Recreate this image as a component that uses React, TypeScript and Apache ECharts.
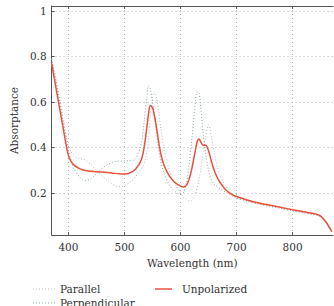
import React, { useEffect, useRef } from "react";
import * as echarts from "echarts";

// Wavelength samples (nm)
const wavelengths = [
  370, 380, 390, 397, 400, 405, 410, 420, 425, 430, 440, 450, 460, 470, 480, 490, 500,
  510, 520, 530, 535, 540, 543, 546, 550, 553, 556, 560, 565, 570, 580, 590, 600, 605,
  610, 615, 620, 625, 630, 633, 636, 640, 645, 650, 655, 660, 665, 670, 680, 690, 700,
  720, 740, 760, 780, 800, 820, 840, 850, 860, 870,
];

const parallel = [
  0.79, 0.665, 0.53, 0.44, 0.41, 0.38, 0.365, 0.35, 0.35, 0.345, 0.325, 0.3, 0.275, 0.252, 0.236, 0.228, 0.232,
  0.248, 0.272, 0.305, 0.33, 0.38, 0.44, 0.53, 0.615, 0.645, 0.63, 0.575, 0.48, 0.4, 0.3, 0.24, 0.2, 0.182,
  0.17, 0.165, 0.168, 0.185, 0.225, 0.26, 0.3, 0.37, 0.45, 0.5, 0.45, 0.375, 0.32, 0.282, 0.232, 0.202, 0.182,
  0.164, 0.152, 0.142, 0.132, 0.122, 0.113, 0.104, 0.096, 0.068, 0.028,
];

const perpendicular = [
  0.79, 0.665, 0.525, 0.43, 0.39, 0.34, 0.305, 0.27, 0.258, 0.254, 0.262, 0.285, 0.308, 0.325, 0.336, 0.34, 0.341,
  0.342, 0.35, 0.42, 0.51, 0.62, 0.672, 0.66, 0.6, 0.55, 0.49, 0.41, 0.34, 0.29, 0.235, 0.207, 0.195, 0.2,
  0.235, 0.32, 0.43, 0.56, 0.645, 0.64, 0.58, 0.47, 0.37, 0.3, 0.258, 0.238, 0.228, 0.22, 0.205, 0.19, 0.178,
  0.163, 0.151, 0.141, 0.131, 0.121, 0.112, 0.103, 0.095, 0.067, 0.028,
];

const unpolarized = [
  0.77, 0.632, 0.494, 0.397, 0.365, 0.338, 0.322, 0.307, 0.302, 0.299, 0.295, 0.293, 0.292, 0.29, 0.287, 0.284, 0.283,
  0.288, 0.305, 0.345, 0.4, 0.49, 0.55, 0.585, 0.575, 0.545, 0.505, 0.44, 0.37, 0.325, 0.275, 0.246, 0.23, 0.226,
  0.232, 0.258, 0.305, 0.368, 0.428, 0.437, 0.425, 0.41, 0.41, 0.385, 0.34, 0.3, 0.27, 0.248, 0.215, 0.196, 0.184,
  0.168, 0.156, 0.146, 0.136, 0.126, 0.117, 0.108, 0.098, 0.07, 0.03,
];

const xTicks = [400, 500, 600, 700, 800];
const yTicks = [0.2, 0.4, 0.6, 0.8, 1];

const seriesNames = ["Parallel", "Perpendicular", "Unpolarized"];
const seriesColors = ["#b3b7ba", "#84a8a4", "#e8523c"];

const pairs = (ys: number[]) => wavelengths.map((x, i) => [x, ys[i]]);

const SERIF = "DejaVu Serif";
const FONT_SIZE = 10.5;
const TEXT = "#333333";
const AXIS = "#555555";
const GRID = "#b4b4b4";
const DOTS = [1, 2];

export default function App() {
  const ref = useRef<HTMLDivElement>(null);

  useEffect(() => {
    if (!ref.current) return;
    const chart = echarts.init(ref.current, null, { renderer: "svg" });

    const labelFont = { fontFamily: SERIF, fontSize: FONT_SIZE, color: TEXT };

    // Legend keys: two dotted entries stacked on the left, the solid one beside them
    const key = (x: number, y: number, w: number, i: number, dashed: boolean) => [
      {
        type: "line",
        shape: { x1: x, y1: y, x2: x + w, y2: y },
        style: {
          stroke: seriesColors[i],
          lineWidth: dashed ? 1 : 1.5,
          lineDash: dashed ? DOTS : null,
        },
      },
      {
        type: "text",
        x: x + w + (dashed ? 4 : 10),
        y: y - 6,
        style: {
          text: seriesNames[i],
          fill: TEXT,
          fontFamily: SERIF,
          fontSize: FONT_SIZE,
        },
      },
    ];

    chart.setOption({
      animation: false,
      textStyle: { fontFamily: SERIF, color: TEXT },
      grid: { left: 34, top: 6, right: 1, bottom: 71, containLabel: false },
      graphic: [
        ...key(33, 289, 23, 0, true),
        ...key(33, 303, 23, 1, true),
        ...key(155, 289, 17, 2, false),
      ],
      xAxis: [
        {
          type: "value",
          min: 370,
          max: 872,
          name: "Wavelength (nm)",
          nameLocation: "middle",
          nameGap: 22,
          nameTextStyle: labelFont,
          axisLine: { show: true, lineStyle: { color: AXIS, width: 1 } },
          axisTick: { show: true, inside: true, length: 3, customValues: xTicks, lineStyle: { color: AXIS } },
          axisLabel: { ...labelFont, customValues: xTicks, margin: 6 },
          splitLine: { show: true, lineStyle: { color: GRID, type: [1, 3], width: 1 } },
        },
        {
          type: "value",
          position: "top",
          min: 370,
          max: 872,
          axisLine: { show: true, lineStyle: { color: AXIS, width: 1 } },
          axisTick: { show: true, inside: true, length: 3, customValues: xTicks, lineStyle: { color: AXIS } },
          axisLabel: { show: false },
          splitLine: { show: false },
        },
      ],
      yAxis: {
        type: "value",
        min: 0.015,
        max: 1.022,
        name: "Absorptance",
        nameLocation: "middle",
        nameGap: 28,
        nameTextStyle: labelFont,
        axisLine: { show: true, lineStyle: { color: AXIS, width: 1 } },
        axisTick: { show: true, inside: true, length: 3, customValues: yTicks, lineStyle: { color: AXIS } },
        axisLabel: {
          ...labelFont,
          customValues: yTicks,
          margin: 5,
          formatter: (v: number) => String(Math.round(v * 10) / 10),
        },
        splitLine: { show: true, lineStyle: { color: GRID, type: [1, 3], width: 1 } },
      },
      series: [
        {
          name: seriesNames[0],
          type: "line",
          data: pairs(parallel),
          showSymbol: false,
          symbol: "none",
          smooth: 0.3,
          lineStyle: { color: seriesColors[0], width: 1, type: DOTS },
          z: 2,
        },
        {
          name: seriesNames[1],
          type: "line",
          data: pairs(perpendicular),
          showSymbol: false,
          symbol: "none",
          smooth: 0.3,
          lineStyle: { color: seriesColors[1], width: 1, type: DOTS },
          z: 2,
        },
        {
          name: seriesNames[2],
          type: "line",
          data: pairs(unpolarized),
          showSymbol: false,
          symbol: "none",
          smooth: 0.3,
          lineStyle: { color: seriesColors[2], width: 1.5 },
          z: 3,
        },
      ],
    });

    return () => chart.dispose();
  }, []);

  return (
    <div
      ref={ref}
      style={{ position: "absolute", left: 0, top: 0, width: 334, height: 306 }}
    />
  );
}
